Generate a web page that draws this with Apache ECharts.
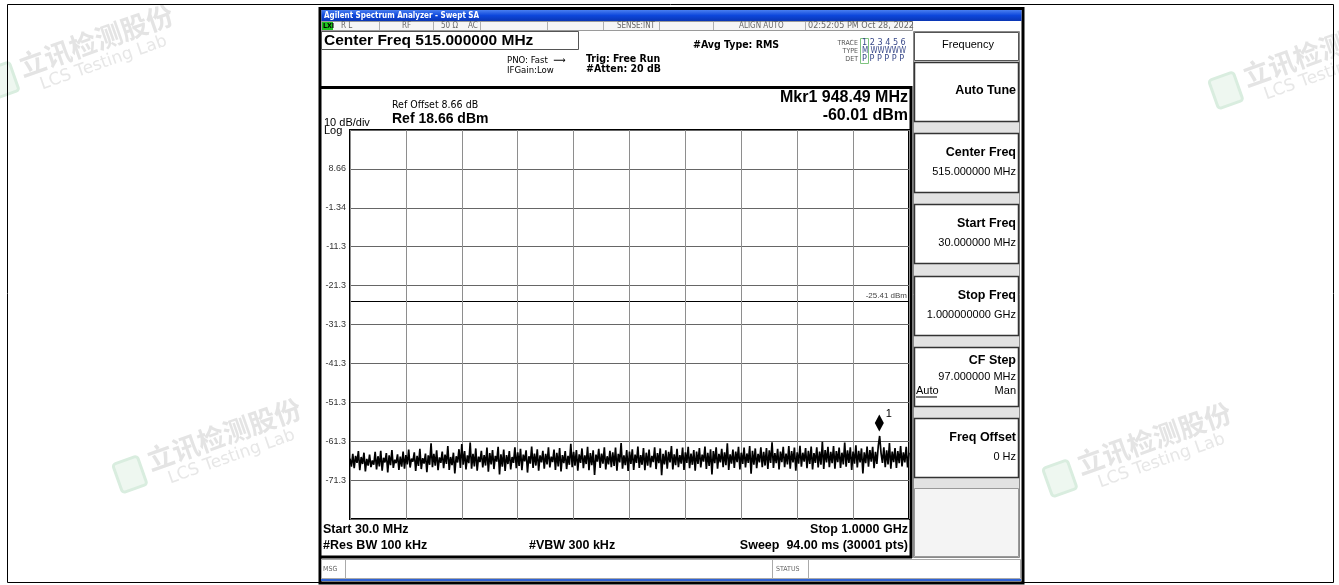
<!DOCTYPE html>
<html>
<head>
<meta charset="utf-8">
<style>
html, body { margin: 0; padding: 0; background: #fff; }
#container { width: 1339px; height: 585px; }
</style>
</head>
<body>
<div id="container"></div>
<script src="https://cdn.jsdelivr.net/npm/echarts@6/dist/echarts.min.js"></script>
<script>
// sweep settings
var freqStartMHz = 30;
var freqStopMHz = 1000;
var freqStepMHz = 97;
var refLevelDbm = 18.66;
var dbPerDiv = 10;
var yTickValues = [8.66, -1.34, -11.34, -21.34, -31.34, -41.34, -51.34, -61.34, -71.34];
var yTickLabels = ['8.66', '-1.34', '-11.3', '-21.3', '-31.3', '-41.3', '-51.3', '-61.3', '-71.3'];
var limitDbm = -25.41;
var marker1 = [948.49, -60.01];

// trace 1 (401 samples across the sweep)
var traceDbm = [
  -65.8,-67.9,-64.6,-68.3,-65.1,-66.9,-63.9,-68.8,-65.4,-67.2,-64.3,-69.1,-65.9,-67.6,-64.8,-68.0,-66.3,-67.4,-64.1,-68.6,
  -65.2,-67.8,-63.8,-68.9,-65.6,-66.8,-64.4,-69.4,-65.0,-67.5,-63.6,-68.2,-66.1,-67.0,-64.7,-68.7,-65.3,-67.9,-64.0,-68.4,
  -64.9,-67.3,-63.5,-68.1,-65.8,-66.6,-64.2,-69.0,-65.1,-67.7,-63.3,-68.5,-65.7,-67.1,-64.5,-69.3,-65.0,-67.4,-61.9,-68.0,
  -64.6,-67.6,-63.7,-68.8,-65.5,-66.9,-64.0,-68.3,-64.8,-67.2,-62.6,-68.7,-65.4,-67.5,-64.3,-69.6,-65.2,-66.8,-63.4,-68.2,
  -62.1,-67.4,-63.9,-68.6,-65.0,-67.0,-61.7,-68.4,-64.6,-67.8,-63.2,-68.9,-65.3,-66.7,-63.8,-68.1,-64.9,-67.6,-63.0,-69.2,
  -64.4,-67.3,-63.6,-68.5,-65.1,-66.6,-62.8,-69.9,-64.7,-67.9,-63.5,-69.0,-64.9,-67.2,-63.9,-68.6,-65.4,-66.9,-62.9,-68.3,
  -64.2,-67.7,-63.3,-68.8,-64.8,-66.5,-63.7,-69.4,-65.2,-67.1,-62.7,-68.2,-64.5,-67.6,-63.4,-68.9,-65.0,-66.8,-63.8,-68.4,
  -64.6,-67.3,-62.9,-68.1,-65.3,-66.7,-63.5,-68.7,-64.3,-67.8,-63.1,-69.1,-64.9,-67.0,-63.9,-68.5,-65.1,-67.4,-62.0,-68.0,
  -64.1,-67.6,-63.6,-68.9,-64.7,-66.9,-63.2,-68.3,-65.0,-67.2,-62.8,-68.8,-64.4,-67.5,-63.7,-70.0,-64.8,-66.6,-63.3,-68.2,
  -64.5,-67.1,-62.9,-68.6,-65.2,-67.3,-63.8,-68.0,-64.2,-67.7,-63.0,-68.9,-64.6,-66.8,-61.8,-68.4,-65.0,-67.5,-63.6,-69.0,
  -64.0,-67.2,-63.4,-68.7,-64.8,-66.9,-62.7,-68.2,-64.9,-67.4,-63.1,-68.8,-64.3,-67.6,-63.5,-68.1,-65.1,-66.7,-62.9,-68.5,
  -64.4,-67.0,-63.2,-70.1,-64.6,-67.3,-63.7,-68.4,-64.1,-66.8,-62.6,-68.6,-64.7,-67.5,-63.3,-68.0,-64.9,-67.1,-63.0,-68.7,
  -64.2,-66.9,-62.8,-68.3,-64.5,-67.4,-63.6,-68.9,-64.0,-67.2,-63.1,-68.1,-64.8,-66.6,-62.7,-68.5,-64.3,-67.7,-63.4,-69.9,
  -63.9,-67.0,-62.9,-68.4,-64.6,-66.8,-63.3,-68.0,-64.2,-67.5,-61.9,-68.7,-64.7,-67.1,-63.5,-68.2,-64.0,-66.7,-62.8,-68.6,
  -64.3,-67.2,-63.0,-68.1,-64.5,-66.9,-62.6,-69.7,-63.8,-67.4,-63.2,-68.3,-64.6,-66.8,-62.9,-68.0,-64.1,-67.6,-63.1,-68.5,
  -63.7,-66.9,-61.6,-68.2,-64.4,-67.0,-63.3,-68.6,-64.0,-66.7,-62.8,-68.0,-64.5,-67.3,-62.6,-68.4,-63.9,-66.8,-63.0,-68.9,
  -64.2,-67.1,-62.5,-67.9,-64.3,-66.6,-63.1,-68.3,-63.8,-67.2,-62.7,-68.6,-64.4,-66.9,-62.9,-68.1,-64.0,-67.4,-61.5,-68.5,
  -63.6,-66.8,-62.8,-68.0,-64.1,-67.0,-62.6,-68.4,-63.9,-66.7,-63.0,-68.2,-64.3,-67.3,-61.7,-67.9,-63.7,-66.9,-62.9,-68.7,
  -64.0,-67.1,-62.4,-68.1,-63.8,-66.8,-63.2,-69.6,-64.2,-67.0,-62.7,-67.9,-63.6,-66.6,-62.8,-68.3,-64.1,-67.2,-62.6,-60.0,
  -64.4,-66.9,-62.9,-68.0,-63.7,-67.3,-61.8,-68.4,-64.0,-66.7,-63.1,-68.2,-63.9,-67.0,-62.6,-67.8,-64.2,-66.8,-62.8,-68.1,
  -64.3
];

var softKeys = [
  { label: 'Auto Tune', value: '' },
  { label: 'Center Freq', value: '515.000000 MHz' },
  { label: 'Start Freq', value: '30.000000 MHz' },
  { label: 'Stop Freq', value: '1.000000000 GHz' },
  { label: 'CF Step', value: '97.000000 MHz', sub: ['Auto', 'Man'] },
  { label: 'Freq Offset', value: '0 Hz' }
];

var statusCells = ['R L', 'RF', '50 Ω', 'AC', 'SENSE:INT', 'ALIGN AUTO', '02:52:05 PM Oct 28, 2022'];
var watermarkCn = '立讯检测股份';
var watermarkEn = 'LCS Testing Lab';

var dom = document.getElementById('container');
var myChart = echarts.init(dom);

var ARIAL = '"Liberation Sans", Arial, sans-serif';
var NARROW = '"Liberation Sans Narrow", "DejaVu Sans Condensed", sans-serif';

function txt(x, y, s, size, opts) {
  opts = opts || {};
  return {
    type: 'text', z: opts.z || 10,
    style: {
      text: s, x: x, y: y,
      fill: opts.color || '#000',
      fontSize: size,
      fontWeight: opts.bold ? 'bold' : 'normal',
      fontFamily: opts.family || ARIAL,
      align: opts.align || 'left',
      verticalAlign: 'middle'
    }
  };
}
function box(x, y, w, h, fill, stroke, lw, z) {
  return {
    type: 'rect', z: z || 5,
    shape: { x: x, y: y, width: w, height: h },
    style: { fill: fill || 'none', stroke: stroke || 'none', lineWidth: lw || 1 }
  };
}
function hline(x1, x2, y, color, lw, z) {
  return { type: 'line', z: z || 8, shape: { x1: x1, y1: y, x2: x2, y2: y }, style: { stroke: color, lineWidth: lw } };
}
function vline(x, y1, y2, color, lw, z) {
  return { type: 'line', z: z || 8, shape: { x1: x, y1: y1, x2: x, y2: y2 }, style: { stroke: color, lineWidth: lw } };
}
function watermark(x, y) {
  return {
    type: 'group', x: x, y: y, rotation: 0.34, z: 1,
    children: [
      { type: 'rect', shape: { x: -34, y: -22, width: 26, height: 30, r: 3 }, style: { fill: '#eef7f0', stroke: '#d9eddf', lineWidth: 3 } },
      { type: 'text', style: { text: watermarkCn, x: 0, y: 0, fill: '#e4e4e4', fontSize: 27, fontWeight: 'bold', fontFamily: '"Noto Sans CJK SC", sans-serif', verticalAlign: 'bottom' } },
      { type: 'text', style: { text: watermarkEn, x: 14, y: 2, fill: '#e7e7e7', fontSize: 17, fontFamily: '"DejaVu Sans", sans-serif', verticalAlign: 'top' } }
    ]
  };
}

var g = [];
// page frame and watermarks
g.push(box(7.5, 4.5, 1326, 578, 'none', '#000', 1, 0));
g.push(watermark(24, 80));
g.push(watermark(1248, 90));
g.push(watermark(152, 474));
g.push(watermark(1082, 478));

// analyzer screen
g.push(box(320, 8.5, 703, 574.5, '#fff', '#000', 3, 3));
g.push({
  type: 'rect', z: 6, shape: { x: 321.5, y: 10, width: 700, height: 11 },
  style: { fill: new echarts.graphic.LinearGradient(0, 0, 0, 1, [
    { offset: 0, color: '#4a7ff0' }, { offset: 0.5, color: '#0d47dc' }, { offset: 1, color: '#0a36b4' }]) }
});
g.push(txt(324, 15.5, 'Agilent Spectrum Analyzer - Swept SA', 8, { bold: true, color: '#fff', family: NARROW }));

// status row
g.push(box(321.5, 21.5, 591, 9, '#f6f6f6', '#9a9a9a', 1, 6));
g.push(box(322, 22, 11, 8, '#1fc01f', 'none', 1, 7));
g.push(txt(323, 26, 'LXI', 7, { bold: true, family: NARROW }));
var statusSeps = [379, 433, 480, 547, 603, 659, 713, 805];
statusSeps.forEach(function (x) { g.push(vline(x + 0.5, 22, 30, '#b0b0b0', 1, 7)); });
var statusX = [341, 402, 441, 468, 617, 739, 808];
statusCells.forEach(function (s, i) { g.push(txt(statusX[i], 26, s, i === 6 ? 9 : 8, { color: '#666', family: NARROW })); });

// header
g.push(box(321.5, 31.5, 257, 18, '#fff', '#555', 1, 6));
g.push(txt(324, 40.5, 'Center Freq 515.000000 MHz', 15.5, { bold: true }));
g.push(txt(507, 61, 'PNO: Fast  ⟶', 9.5, { family: NARROW }));
g.push(txt(507, 71, 'IFGain:Low', 9.5, { family: NARROW }));
g.push(txt(586, 59, 'Trig: Free Run', 10.5, { bold: true, family: NARROW }));
g.push(txt(586, 69, '#Atten: 20 dB', 10.5, { bold: true, family: NARROW }));
g.push(txt(693, 45, '#Avg Type: RMS', 10.5, { bold: true, family: NARROW }));
g.push(txt(858, 43, 'TRACE', 7, { color: '#555', align: 'right', family: NARROW }));
g.push(txt(858, 51, 'TYPE', 7, { color: '#555', align: 'right', family: NARROW }));
g.push(txt(858, 59, 'DET', 7, { color: '#555', align: 'right', family: NARROW }));
g.push(box(860.5, 38.5, 8, 25, 'none', '#7fc47f', 1, 7));
g.push(txt(862, 43, '1 2 3 4 5 6', 9, { color: '#3a4a8a', family: NARROW }));
g.push(txt(862, 51, 'M WWWWW', 8, { color: '#3a4a8a', family: NARROW }));
g.push(txt(862, 59, 'P P P P P P', 9, { color: '#3a4a8a', family: NARROW }));

// display frame
g.push(hline(320, 912, 87.5, '#000', 3, 8));
g.push(vline(911, 86, 558, '#000', 3, 8));
g.push(hline(320, 912, 557, '#000', 3, 8));
g.push(txt(392, 105, 'Ref Offset 8.66 dB', 10.5, { family: NARROW }));
g.push(txt(324, 123, '10 dB/div', 11));
g.push(txt(392, 119, 'Ref 18.66 dBm', 14, { bold: true }));
g.push(txt(324, 131, 'Log', 11));
g.push(txt(908, 98, 'Mkr1 948.49 MHz', 16, { bold: true, align: 'right' }));
g.push(txt(908, 116, '-60.01 dBm', 16, { bold: true, align: 'right' }));
g.push(txt(323, 530, 'Start 30.0 MHz', 12.5, { bold: true }));
g.push(txt(908, 530, 'Stop 1.0000 GHz', 12.5, { bold: true, align: 'right' }));
g.push(txt(323, 546, '#Res BW 100 kHz', 12.5, { bold: true }));
g.push(txt(529, 546, '#VBW 300 kHz', 12.5, { bold: true }));
g.push(txt(908, 546, 'Sweep  94.00 ms (30001 pts)', 12.5, { bold: true, align: 'right' }));

// message row
g.push(box(321.5, 559.5, 699, 19, '#fff', '#aaa', 1, 6));
g.push(vline(345.5, 560, 578, '#aaa', 1, 7));
g.push(vline(772.5, 560, 578, '#aaa', 1, 7));
g.push(vline(808.5, 560, 578, '#aaa', 1, 7));
g.push(txt(323, 569, 'MSG', 7, { color: '#666', family: NARROW }));
g.push(txt(776, 569, 'STATUS', 7, { color: '#666', family: NARROW }));
g.push(hline(321, 1021, 580, '#2f62d4', 2, 7));

// soft keys
g.push(box(913.5, 31.5, 106, 526, '#e2e2e2', '#8a8a8a', 1, 6));
g.push(box(914.5, 32.5, 104, 28, '#fff', '#555', 1, 7));
g.push(txt(968, 45, 'Frequency', 11, { align: 'center' }));
var keyTop = 62, keyH = 59, keyGap = 71.2;
softKeys.forEach(function (k, i) {
  var y0 = Math.round(keyTop + i * keyGap) + 0.5;
  g.push(box(914.5, y0, 104, keyH, '#fff', '#333', 1.5, 7));
  if (!k.value) {
    g.push(txt(1016, y0 + 28, k.label, 12.5, { bold: true, align: 'right' }));
  } else if (k.sub) {
    g.push(txt(1016, y0 + 13, k.label, 12.5, { bold: true, align: 'right' }));
    g.push(txt(1016, y0 + 29, k.value, 11, { align: 'right' }));
    g.push(txt(916, y0 + 43, k.sub[0], 11));
    g.push(hline(916, 937, y0 + 49.5, '#000', 1, 9));
    g.push(txt(1016, y0 + 43, k.sub[1], 11, { align: 'right' }));
  } else {
    g.push(txt(1016, y0 + 19, k.label, 12.5, { bold: true, align: 'right' }));
    g.push(txt(1016, y0 + 38, k.value, 11, { align: 'right' }));
  }
});
g.push(box(914.5, 488.5, 104, 68, '#f4f4f4', '#999', 1, 7));

var sweepData = traceDbm.map(function (v, i) {
  return [freqStartMHz + i * (freqStopMHz - freqStartMHz) / (traceDbm.length - 1), v];
});

var option = {
  animation: false,
  backgroundColor: '#fff',
  graphic: { elements: g },
  grid: { left: 350, top: 130, width: 559, height: 389, show: true, borderColor: '#000', borderWidth: 2, z: 20 },
  xAxis: {
    type: 'value', min: freqStartMHz, max: freqStopMHz, interval: freqStepMHz,
    axisLine: { show: false }, axisTick: { show: false }, axisLabel: { show: false },
    splitLine: { lineStyle: { color: '#8e8e8e', width: 1 } }, z: 20
  },
  yAxis: {
    type: 'value', min: refLevelDbm - 10 * dbPerDiv, max: refLevelDbm, interval: dbPerDiv,
    axisLine: { show: false }, axisTick: { show: false },
    axisLabel: {
      color: '#333', fontSize: 9, margin: 4, fontFamily: ARIAL,
      formatter: function (v) {
        for (var i = 0; i < yTickValues.length; i++) {
          if (Math.abs(yTickValues[i] - v) < 0.01) return yTickLabels[i];
        }
        return '';
      }
    },
    splitLine: { lineStyle: { color: '#666', width: 1 } }, z: 20
  },
  series: [{
    type: 'line', data: sweepData, symbol: 'none', z: 21,
    lineStyle: { color: '#000', width: 1.7 },
    markLine: {
      silent: true, symbol: 'none', data: [{ yAxis: limitDbm }],
      lineStyle: { color: '#000', width: 1, type: 'solid' },
      label: { position: 'insideEndTop', formatter: limitDbm + ' dBm', fontSize: 8, color: '#444', distance: 2 }
    },
    markPoint: {
      symbol: 'diamond', symbolSize: [9, 17], symbolOffset: [0, -13],
      data: [{ coord: marker1 }],
      itemStyle: { color: '#000' },
      label: { show: true, formatter: '1', position: [11, -6], color: '#000', fontSize: 11 }
    }
  }]
};
myChart.setOption(option);
</script>
</body>
</html>
